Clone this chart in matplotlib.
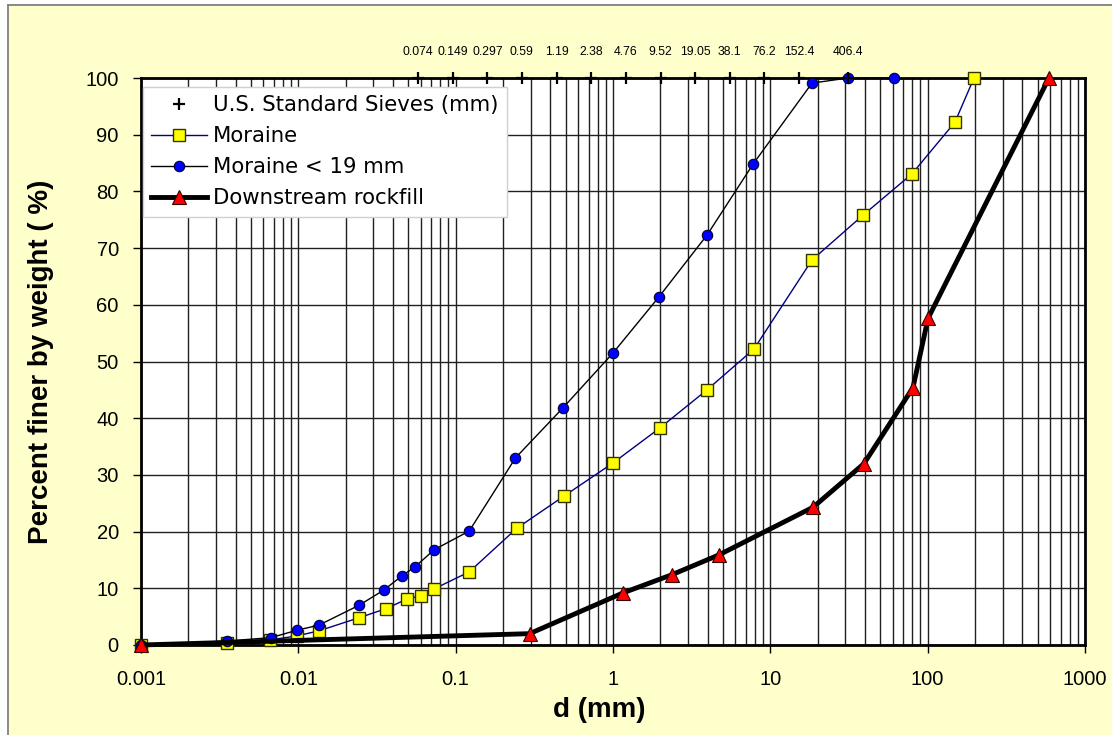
import matplotlib
matplotlib.use("Agg")
import matplotlib.pyplot as plt
from matplotlib.patches import Rectangle
from matplotlib.lines import Line2D
from matplotlib.ticker import LogLocator, FixedLocator, NullLocator, NullFormatter

plt.rcParams['font.family'] = ['Liberation Sans', 'DejaVu Sans']

# ---------------- data ----------------
sieve_sizes = [0.074, 0.149, 0.297, 0.59, 1.19, 2.38, 4.76, 9.52, 19.05, 38.1, 76.2, 152.4, 406.4]
sieve_labels = ["0.074", "0.149", "0.297", "0.59", "1.19", "2.38", "4.76", "9.52",
                "19.05", "38.1", "76.2", "152.4", "406.4"]

moraine_d = [0.001, 0.0035, 0.0066, 0.0098, 0.0135, 0.0243, 0.036, 0.049, 0.060, 0.073,
             0.122, 0.245, 0.49, 1.0, 1.99, 3.96, 7.87, 18.4, 38.8, 79.5, 149, 197]
moraine_p = [0, 0.3, 0.9, 1.6, 2.5, 4.8, 6.4, 8.1, 8.7, 9.9,
             12.9, 20.6, 26.3, 32.1, 38.3, 45.0, 52.2, 67.9, 75.8, 83.1, 92.2, 100]

m19_d = [0.001, 0.0035, 0.0067, 0.0098, 0.0135, 0.0243, 0.035, 0.0456, 0.0552, 0.073,
         0.122, 0.24, 0.48, 1.0, 1.96, 3.96, 7.76, 18.4, 31.2, 61.1]
m19_p = [0, 0.7, 1.3, 2.6, 3.5, 7.0, 9.7, 12.2, 13.8, 16.8,
         20.1, 33.0, 41.8, 51.5, 61.4, 72.3, 84.8, 99.1, 100, 100]

rock_d = [0.001, 0.295, 1.16, 2.37, 4.72, 18.7, 39.4, 80.7, 100.5, 590]
rock_p = [0, 2.0, 9.2, 12.4, 15.9, 24.3, 32.0, 45.4, 57.6, 100]

x_ticks = [0.001, 0.01, 0.1, 1, 10, 100, 1000]
x_ticklabels = ["0.001", "0.01", "0.1", "1", "10", "100", "1000"]
y_ticks = [0, 10, 20, 30, 40, 50, 60, 70, 80, 90, 100]

# ---------------- figure ----------------
W, H = 1112, 735
fig = plt.figure(figsize=(W / 100, H / 100), dpi=100)
fig.patch.set_facecolor('white')
bg = Rectangle((8 / W, -0.05), 1.1, 1 - 5 / H + 0.05,
               transform=fig.transFigure, facecolor='#FFFFCC',
               edgecolor='none', zorder=-10)
fig.patches.append(bg)
fig.lines.append(Line2D([8 / W, 8 / W], [0, 1 - 5 / H], transform=fig.transFigure,
                        color='#808080', linewidth=1.3, zorder=-9))
fig.lines.append(Line2D([8 / W, 1], [1 - 5 / H, 1 - 5 / H], transform=fig.transFigure,
                        color='#808080', linewidth=1.3, zorder=-9))

left, right, top, bottom = 141, 1085, 78, 645
ax = fig.add_axes([left / W, 1 - bottom / H, (right - left) / W, (bottom - top) / H])
ax.set_facecolor('white')
ax.set_xscale('log')
ax.set_xlim(0.001, 1000)
ax.set_ylim(0, 100)

ax.xaxis.set_major_locator(FixedLocator(x_ticks))
ax.set_xticklabels(x_ticklabels)
ax.xaxis.set_minor_locator(LogLocator(base=10, subs=range(2, 10), numticks=100))
ax.xaxis.set_minor_formatter(NullFormatter())
ax.set_yticks(y_ticks)

ax.grid(True, which='major', axis='both', color='#202020', linewidth=1.0, zorder=1)
ax.grid(True, which='minor', axis='x', color='#202020', linewidth=1.0, zorder=1)
ax.set_axisbelow(True)

ax.tick_params(axis='both', which='major', direction='out', length=6, width=1,
               labelsize=14.5, colors='black')
ax.tick_params(axis='y', which='major', pad=10)
ax.tick_params(axis='x', which='minor', length=0)
ax.tick_params(axis='x', which='major', pad=12)
for s in ax.spines.values():
    s.set_linewidth(2.0)
    s.set_color('black')

# series
ax.plot(moraine_d, moraine_p, color='#000080', linewidth=1.0, marker='s',
        markersize=8.5, markerfacecolor='#FFFF00', markeredgecolor='#333300',
        markeredgewidth=1.0, label='Moraine', zorder=4, clip_on=False)
ax.plot(m19_d, m19_p, color='black', linewidth=1.0, marker='o',
        markersize=7.5, markerfacecolor='#0000FF', markeredgecolor='#000033',
        markeredgewidth=0.8, label='Moraine < 19 mm', zorder=5, clip_on=False)
ax.plot(rock_d, rock_p, color='black', linewidth=3.5, marker='^',
        markersize=9.5, markerfacecolor='#FF0000', markeredgecolor='#330000',
        markeredgewidth=0.8, label='Downstream rockfill', zorder=6, clip_on=False)

ax.set_xlabel('d (mm)', fontsize=20, fontweight='bold')
ax.xaxis.set_label_coords((599 - left) / (right - left), -(697 - bottom) / (bottom - top))
ax.set_ylabel('Percent finer by weight ( %)', fontsize=20, fontweight='bold')
ax.yaxis.set_label_coords(-(left - 54) / (right - left), (645 - 362) / (bottom - top))

# top sieve axis
ax2 = ax.twiny()
ax2.set_xscale('log')
dec = (848 - 418) / 3.7397
lo = 0.074 * 10 ** (-(418 - left) / dec)
hi = 0.074 * 10 ** ((right - 418) / dec)
ax2.set_xlim(lo, hi)
ax2.xaxis.set_major_locator(FixedLocator(sieve_sizes))
ax2.set_xticklabels(sieve_labels)
ax2.xaxis.set_minor_locator(NullLocator())
ax2.tick_params(axis='x', which='major', length=0, labelsize=8.8, pad=14.5)
for s in ax2.spines.values():
    s.set_visible(False)
sv, = ax2.plot(sieve_sizes, [100] * len(sieve_sizes), linestyle='none', marker='+',
               markersize=9, markeredgewidth=1.6, color='black', clip_on=False,
               zorder=7, label='U.S. Standard Sieves (mm)')

handles = [sv] + ax.get_legend_handles_labels()[0]
labels = ['U.S. Standard Sieves (mm)'] + ax.get_legend_handles_labels()[1]
leg = ax2.legend(handles, labels, loc='upper left', bbox_to_anchor=(0.002, 0.985),
                 borderaxespad=0, frameon=True, fancybox=False,
                 prop={'family': 'DejaVu Sans', 'size': 15.3},
                 framealpha=1, edgecolor='#d0d0d0', handlelength=2.6,
                 labelspacing=0.52, handletextpad=0.3, borderpad=0.4)
leg.get_frame().set_linewidth(1.0)
leg.set_zorder(10)

fig.savefig('out.png', dpi=100)
